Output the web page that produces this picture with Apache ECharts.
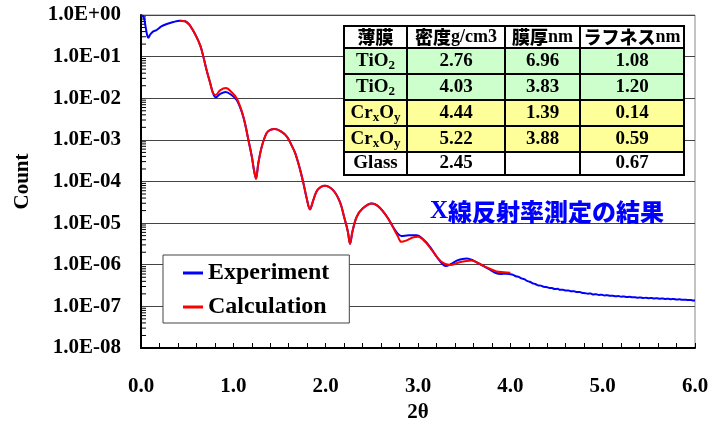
<!DOCTYPE html>
<html><head><meta charset="utf-8">
<script src="https://cdn.jsdelivr.net/npm/echarts@6/dist/echarts.min.js"></script>
<style>html,body{margin:0;padding:0;background:#fff}#c{width:718px;height:421px}</style>
</head><body><div id="c"></div>
<script>
// ---- data ----
const expTheta = [0.00,0.02,0.035,0.05,0.065,0.079,0.10,0.13,0.17,0.22,0.28,0.35,0.42,0.477,0.52,0.55,0.60,0.646,0.675,0.71,0.75,0.78,0.81,0.856,0.917,0.98,1.036,1.09,1.126,1.163,1.20,1.224,1.245,1.27,1.307,1.36,1.40,1.45,1.52,1.58,1.63,1.67,1.72,1.76,1.795,1.83,1.866,1.91,1.99,2.08,2.155,2.20,2.24,2.264,2.29,2.336,2.40,2.50,2.56,2.625,2.68,2.73,2.78,2.82,2.90,2.985,3.05,3.13,3.20,3.26,3.30,3.36,3.42,3.48,3.53,3.60,3.66,3.71,3.77,3.83,3.90,3.95,
4.00,4.03,4.06,4.09,4.12,4.15,4.18,4.21,4.24,4.27,4.30,4.33,4.36,4.39,4.42,4.45,4.48,4.51,4.54,4.57,4.60,4.63,4.66,4.69,4.72,4.75,4.78,4.81,4.84,4.87,4.90,4.93,4.96,4.99,5.02,5.05,5.08,5.11,5.14,5.17,5.20,5.23,5.26,5.29,5.32,5.35,5.38,5.41,5.44,5.47,5.50,5.53,5.56,5.59,5.62,5.65,5.68,5.71,5.74,5.77,5.80,5.83,5.86,5.89,5.92,5.95,5.98,6.00];
const expCount = [0.95,0.96,0.80,0.52,0.34,0.284,0.34,0.40,0.436,0.53,0.608,0.679,0.73,0.708,0.60,0.479,0.302,0.174,0.1,0.0479,0.0229,0.0132,0.0105,0.0126,0.0141,0.0120,0.00912,0.00479,0.00251,0.001,0.000398,0.000186,0.000117,0.000269,0.000676,0.00145,0.00174,0.00182,0.00158,0.0012,0.00075,0.000479,0.000204,8.9e-5,3.9e-5,2.14e-5,3.55e-5,6.2e-5,7.9e-5,6.2e-5,3.2e-5,1.4e-5,6.3e-6,3.2e-6,6.3e-6,1.41e-5,2.24e-5,2.95e-5,2.63e-5,1.86e-5,1.26e-5,8.1e-6,5.6e-6,4.9e-6,5.1e-6,5.1e-6,4.2e-6,2.7e-6,1.58e-6,1.07e-6,9.3e-7,1.05e-6,1.26e-6,1.38e-6,1.41e-6,1.26e-6,1.07e-6,9.3e-7,7.8e-7,6.5e-7,6.0e-7,6.1e-7,
5.9e-7,5.7e-7,5.3e-7,5.1e-7,4.7e-7,4.5e-7,4.1e-7,3.9e-7,3.6e-7,3.45e-7,3.2e-7,3.15e-7,2.95e-7,2.92e-7,2.78e-7,2.76e-7,2.62e-7,2.64e-7,2.5e-7,2.52e-7,2.4e-7,2.42e-7,2.3e-7,2.31e-7,2.2e-7,2.22e-7,2.1e-7,2.08e-7,2.02e-7,2.03e-7,1.93e-7,1.96e-7,1.88e-7,1.9e-7,1.83e-7,1.85e-7,1.79e-7,1.81e-7,1.75e-7,1.77e-7,1.71e-7,1.73e-7,1.68e-7,1.7e-7,1.65e-7,1.66e-7,1.62e-7,1.64e-7,1.59e-7,1.61e-7,1.57e-7,1.59e-7,1.55e-7,1.57e-7,1.53e-7,1.55e-7,1.51e-7,1.53e-7,1.49e-7,1.5e-7,1.46e-7,1.48e-7,1.44e-7,1.45e-7,1.42e-7,1.43e-7,1.39e-7,1.38e-7];

const calcTheta = [0.42,0.477,0.52,0.55,0.60,0.646,0.675,0.71,0.75,0.78,0.81,0.856,0.92,0.98,1.036,1.09,1.126,1.163,1.20,1.224,1.245,1.27,1.307,1.36,1.40,1.45,1.52,1.58,1.63,1.67,1.72,1.76,1.795,1.83,1.866,1.91,1.99,2.08,2.155,2.20,2.24,2.264,2.29,2.336,2.40,2.50,2.56,2.625,2.68,2.73,2.78,2.82,2.87,2.95,3.00,3.08,3.15,3.25,3.35,3.45,3.58,3.66,3.75,3.85,3.93,4.00];
const calcCount = [0.73,0.708,0.60,0.479,0.302,0.174,0.1,0.0479,0.0229,0.0135,0.0120,0.0155,0.0176,0.0141,0.0100,0.0050,0.00251,0.001,0.000398,0.000186,0.000117,0.000269,0.000676,0.00145,0.00174,0.00182,0.00158,0.0012,0.00075,0.000479,0.000204,8.9e-5,3.9e-5,2.14e-5,3.55e-5,6.2e-5,7.9e-5,6.2e-5,3.2e-5,1.4e-5,6.3e-6,3.2e-6,6.3e-6,1.41e-5,2.24e-5,2.95e-5,2.63e-5,1.86e-5,1.26e-5,7.9e-6,4.9e-6,3.55e-6,3.8e-6,4.6e-6,4.7e-6,3.5e-6,2.24e-6,1.2e-6,9.8e-7,1.15e-6,1.26e-6,1.07e-6,8.5e-7,6.9e-7,6.6e-7,6.4e-7];

const seriesNames = ['Experiment', 'Calculation'];
const yMinorMultipliers = [2,3,4,5,6,7,8,9];
const yDecades = [-8,-7,-6,-5,-4,-3,-2,-1];

const tableHeader = ['{c|薄膜}', '{c|密度}{s|g/cm3}', '{c|膜厚}{s|nm}', '{c|ラフネス}{s|nm}'];
const layers = ['TiO{sub|2}', 'TiO{sub|2}', 'Cr{sub|x}O{sub|y}', 'Cr{sub|x}O{sub|y}', 'Glass'];
const density = [2.76, 4.03, 4.44, 5.22, 2.45];
const thickness = [6.96, 3.83, 1.39, 3.88, null];
const roughness = [1.08, 1.20, 0.14, 0.59, 0.67];
const rowFill = ['#CCFFCC', '#CCFFCC', '#FFFF99', '#FFFF99', '#FFFFFF'];
const titleText = '{x|X}{j|線反射率測定の結果}';

// ---- build ----
const SERIF = '"Liberation Serif", "Times New Roman", serif';
const CJK = '"Noto Sans CJK JP", sans-serif';
const zip = (a, b) => a.map((v, i) => [v, b[i]]);
const minorTicks = [];
yDecades.forEach(d => yMinorMultipliers.forEach(m => minorTicks.push([0, m * Math.pow(10, d)])));

const cols = [344, 407, 505, 580, 684];
const rows = [26, 48, 74, 100, 126, 152, 175];
const graphics = [];
const cellText = (r, c) => {
  if (r === 0) return tableHeader[c];
  const i = r - 1;
  if (c === 0) return layers[i];
  const v = [density, thickness, roughness][c - 1][i];
  return v == null ? '' : v.toFixed(2);
};
for (let r = 0; r < rows.length - 1; r++) {
  for (let c = 0; c < cols.length - 1; c++) {
    const x = cols[c], y = rows[r], w = cols[c + 1] - cols[c], h = rows[r + 1] - rows[r];
    graphics.push({
      type: 'rect', z: 100, shape: { x, y, width: w, height: h },
      style: { fill: r === 0 ? '#FFFFFF' : rowFill[r - 1], stroke: '#000', lineWidth: 2 }
    });
    graphics.push({
      type: 'text', z: 101, x: x + w / 2, y: y + h / 2,
      style: {
        text: cellText(r, c), align: 'center', verticalAlign: 'middle',
        fontFamily: SERIF, fontWeight: 'bold', fontSize: 19, fill: '#000', lineHeight: 22,
        rich: {
          c: { fontFamily: CJK, fontWeight: 900, fontSize: 18, lineHeight: 22 },
          s: { fontFamily: SERIF, fontWeight: 'bold', fontSize: 18, lineHeight: 22 },
          sub: { fontFamily: SERIF, fontWeight: 'bold', fontSize: 13, lineHeight: 12, verticalAlign: 'bottom' }
        }
      }
    });
  }
}
graphics.push({
  type: 'text', z: 101, x: 430, y: 212,
  style: {
    text: titleText, align: 'left', verticalAlign: 'middle', fill: '#0000FF',
    rich: {
      x: { fontFamily: SERIF, fontWeight: 'bold', fontSize: 25, fill: '#0000FF' },
      j: { fontFamily: CJK, fontWeight: 900, fontSize: 24, fill: '#0000FF' }
    }
  }
});

const fmtY = v => {
  const e = Math.round(Math.log10(v));
  return '1.0E' + (e >= 0 ? '+' : '-') + String(Math.abs(e)).padStart(2, '0');
};

const chart = echarts.init(document.getElementById('c'));
chart.setOption({
  animation: false,
  grid: { left: 141, right: 23, top: 15, bottom: 73, show: true, borderColor: '#888', borderWidth: 1, containLabel: false, outerBoundsMode: 'none' },
  legend: {
    data: seriesNames, left: 163, top: 255, orient: 'vertical',
    padding: [6, 20, 4, 20], itemGap: 10, itemWidth: 20, itemHeight: 3, icon: 'rect',
    backgroundColor: '#fff', borderColor: '#444', borderWidth: 1,
    textStyle: { fontFamily: SERIF, fontWeight: 'bold', fontSize: 24, color: '#000' }
  },
  xAxis: {
    type: 'value', min: 0, max: 6, interval: 1,
    name: '2θ', nameLocation: 'middle', nameGap: 52,
    nameTextStyle: { fontFamily: SERIF, fontWeight: 'bold', fontSize: 21, color: '#000' },
    axisLine: { show: true, lineStyle: { color: '#000', width: 2 } },
    axisTick: { show: true, inside: true, length: 5, lineStyle: { color: '#000' } },
    minorTick: { show: true, splitNumber: 5, length: 5, lineStyle: { color: '#000' } },
    splitLine: { show: false },
    axisLabel: { margin: 28, formatter: v => v.toFixed(1), fontFamily: SERIF, fontWeight: 'bold', fontSize: 21, color: '#000' }
  },
  yAxis: {
    type: 'log', logBase: 10, min: 1e-8, max: 1, splitNumber: 8,
    name: 'Count', nameLocation: 'middle', nameGap: 108,
    nameTextStyle: { fontFamily: SERIF, fontWeight: 'bold', fontSize: 21, color: '#000' },
    axisLine: { show: true, lineStyle: { color: '#000', width: 2 } },
    axisTick: { show: false },
    splitLine: { show: true, lineStyle: { color: '#444', width: 1 } },
    axisLabel: { margin: 20, formatter: fmtY, fontFamily: SERIF, fontWeight: 'bold', fontSize: 21, color: '#000' }
  },
  graphic: graphics,
  series: [
    {
      type: 'custom', silent: true, data: minorTicks, z: 3,
      renderItem: (params, api) => {
        const p = api.coord([0, api.value(1)]);
        return { type: 'line', shape: { x1: p[0], y1: p[1], x2: p[0] + 5, y2: p[1] }, style: { stroke: '#000', lineWidth: 1 } };
      }
    },
    {
      name: seriesNames[0], type: 'line', data: zip(expTheta, expCount), showSymbol: false, symbol: 'none',
      smooth: 0.35, lineStyle: { color: '#0000FF', width: 2 }, itemStyle: { color: '#0000FF' }, z: 4
    },
    {
      name: seriesNames[1], type: 'line', data: zip(calcTheta, calcCount), showSymbol: false, symbol: 'none',
      smooth: 0.35, lineStyle: { color: '#FF0000', width: 2 }, itemStyle: { color: '#FF0000' }, z: 5
    }
  ]
});
</script></body></html>
